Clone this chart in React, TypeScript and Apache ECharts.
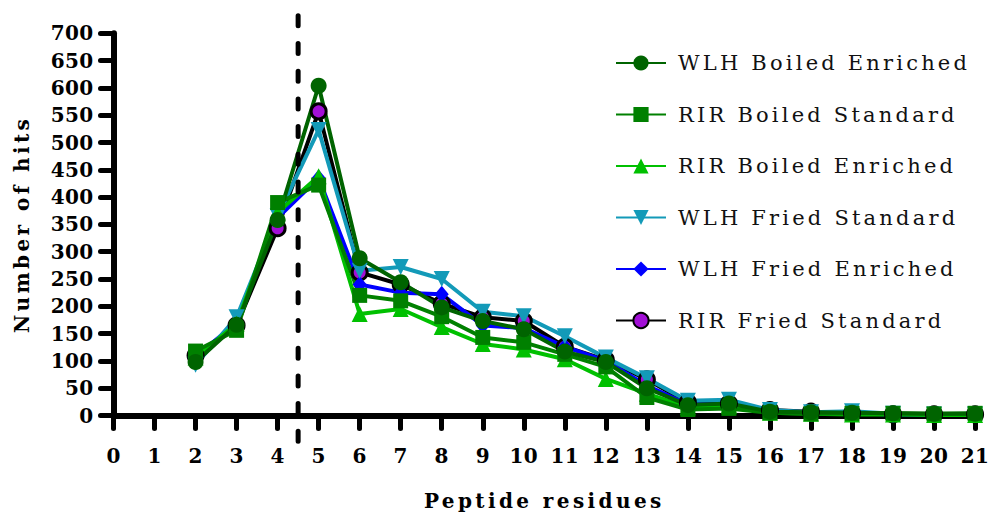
import React, { useEffect, useRef } from "react";
import * as echarts from "echarts";

// Peptide length (number of residues) for each point
const residues = [2, 3, 4, 5, 6, 7, 8, 9, 10, 11, 12, 13, 14, 15, 16, 17, 18, 19, 20, 21];

const wlhBoiledEnriched = [98, 166, 358, 604, 288, 244, 198, 173, 158, 117, 98, 50, 19, 22, 7, 6, 5, 4, 3, 3];
const rirBoiledStandard = [118, 156, 390, 422, 220, 210, 181, 143, 134, 112, 89, 33, 11, 13, 5, 3, 4, 4, 3, 4];
const rirBoiledEnriched = [106, 168, 372, 438, 186, 195, 162, 131, 121, 103, 67, 40, 15, 18, 5, 3, 2, 2, 1, 1];
const wlhFriedStandard = [93, 180, 365, 523, 265, 272, 250, 190, 182, 145, 106, 68, 27, 29, 10, 6, 8, 3, 2, 2];
const wlhFriedEnriched = [108, 170, 362, 435, 240, 225, 222, 165, 160, 126, 100, 55, 20, 20, 6, 4, 4, 2, 2, 2];
const rirFriedStandard = [110, 165, 343, 557, 262, 240, 205, 180, 173, 126, 102, 66, 24, 22, 10, 7, 4, 2, 2, 2];

const seriesNames = [
  "WLH Boiled Enriched",
  "RIR Boiled Standard",
  "RIR Boiled Enriched",
  "WLH Fried Standard",
  "WLH Fried Enriched",
  "RIR Fried Standard",
];
const seriesValues = [
  wlhBoiledEnriched,
  rirBoiledStandard,
  rirBoiledEnriched,
  wlhFriedStandard,
  wlhFriedEnriched,
  rirFriedStandard,
];

const xMin = 0;
const xMax = 21;
const xInterval = 1;
const yMin = 0;
const yMax = 700;
const yInterval = 50;
const cutoffResidue = 4.5;

const xTitle = "Peptide residues";
const yTitle = "Number of hits";

const styles = [
  { line: "#006400", fill: "#006400", border: "#006400", borderWidth: 0, symbol: "circle", size: 16, rotate: 0 },
  { line: "#008000", fill: "#008000", border: "#008000", borderWidth: 0, symbol: "rect", size: 15, rotate: 0 },
  { line: "#00C000", fill: "#00C000", border: "#00C000", borderWidth: 0, symbol: "triangle", size: 16, rotate: 0 },
  { line: "#139AB8", fill: "#139AB8", border: "#139AB8", borderWidth: 0, symbol: "triangle", size: 16, rotate: 180 },
  { line: "#0000FF", fill: "#0000FF", border: "#0000FF", borderWidth: 0, symbol: "diamond", size: [14, 17], rotate: 0 },
  { line: "#000000", fill: "#A20FD6", border: "#000000", borderWidth: 3, symbol: "circle", size: 15, rotate: 0 },
];

const FONT = "DejaVu Serif";

export default function App() {
  const ref = useRef<HTMLDivElement>(null);

  useEffect(() => {
    if (!ref.current) return;
    const chart = echarts.init(ref.current, undefined, { renderer: "svg" });

    const series: any[] = seriesNames
      .map((name, i) => ({
        type: "line",
        name,
        data: residues.map((r, j) => [r, seriesValues[i][j]]),
        symbol: styles[i].symbol,
        symbolSize: styles[i].size,
        symbolRotate: styles[i].rotate,
        showAllSymbol: true,
        lineStyle: { color: styles[i].line, width: 4 },
        itemStyle: {
          color: styles[i].fill,
          borderColor: styles[i].border,
          borderWidth: styles[i].borderWidth,
          opacity: 1,
        },
        emphasis: { disabled: true },
        z: 2,
      }))
      .reverse();

    chart.setOption({
      animation: false,
      backgroundColor: "#ffffff",
      grid: { left: 113.5, right: 16, top: 33.3, bottom: 100.5, containLabel: false },
      legend: {
        data: seriesNames,
        orient: "vertical",
        left: 610,
        top: 46,
        itemWidth: 50,
        itemHeight: 19,
        itemGap: 27.5,
        selectedMode: false,
        textStyle: {
          fontFamily: FONT,
          fontSize: 21,
          color: "#111",
          lineHeight: 24,
          padding: [0, 0, 0, 7],
        },
      },
      xAxis: {
        type: "value",
        min: xMin,
        max: xMax,
        interval: xInterval,
        name: xTitle,
        nameLocation: "middle",
        nameGap: 75,
        nameTextStyle: { fontFamily: FONT, fontSize: 20, fontWeight: "bolder", color: "#000" },
        axisLine: { lineStyle: { color: "#000", width: 6, cap: "round" } },
        axisTick: { length: 13, lineStyle: { color: "#000", width: 5, cap: "round" } },
        axisLabel: {
          fontFamily: FONT,
          fontSize: 20,
          fontWeight: "bold",
          color: "#000",
          margin: 30,
        },
        splitLine: { show: false },
      },
      yAxis: {
        type: "value",
        min: yMin,
        max: yMax,
        interval: yInterval,
        name: yTitle,
        nameLocation: "middle",
        nameGap: 82,
        nameTextStyle: { fontFamily: FONT, fontSize: 20, fontWeight: "bolder", color: "#000" },
        axisLine: { lineStyle: { color: "#000", width: 6, cap: "round" } },
        axisTick: { length: 13, lineStyle: { color: "#000", width: 5, cap: "round" } },
        axisLabel: {
          fontFamily: FONT,
          fontSize: 20,
          fontWeight: "bold",
          color: "#000",
          margin: 20,
          padding: [10, 0, 0, 0],
        },
        splitLine: { show: false },
      },
      series,
    });

    const px = chart.convertToPixel({ xAxisIndex: 0 }, cutoffResidue) as number;
    const yTop = chart.convertToPixel({ yAxisIndex: 0 }, yMax) as number;
    const yBottom = chart.convertToPixel({ yAxisIndex: 0 }, yMin) as number;
    chart.setOption({
      graphic: [
        {
          type: "line",
          z: 10,
          silent: true,
          shape: { x1: px, y1: yTop - 17.5, x2: px, y2: yBottom + 42 },
          style: { stroke: "#000", lineWidth: 5, lineDash: [10, 17.7], lineCap: "round" },
        },
      ],
    });

    return () => chart.dispose();
  }, []);

  return (
    <>
      <style>{`
        #chart text[style*="bold"] { letter-spacing: 0.3px; }
        #chart text[style*="bolder"] { letter-spacing: 3.4px; }
        #chart text:not([style*="bold"]) { letter-spacing: 3.2px; }
      `}</style>
      <div
        id="chart"
        ref={ref}
        style={{ position: "fixed", left: 0, top: 0, width: 992, height: 516, background: "#fff" }}
      />
    </>
  );
}
